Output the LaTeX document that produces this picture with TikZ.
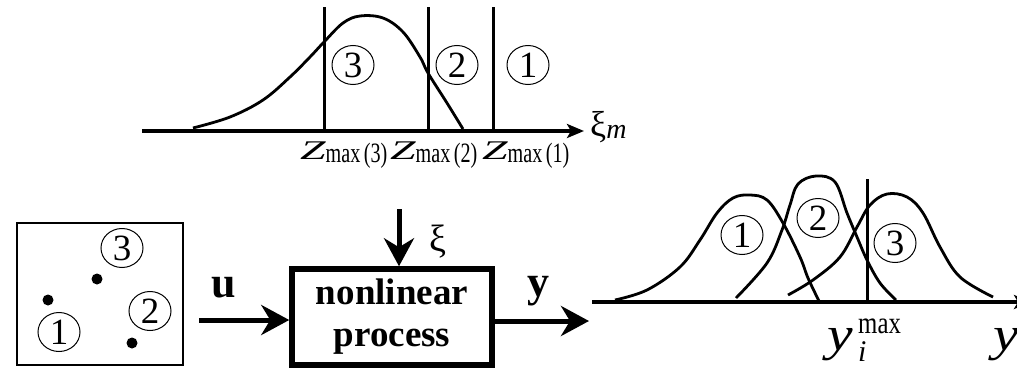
\documentclass[tikz,border=0pt]{standalone}
\usepackage{fontspec}
\setmainfont{Liberation Serif}
\usetikzlibrary{arrows.meta,shapes.geometric}
\newcommand{\fsz}[1]{\fontsize{#1}{#1}\selectfont}
\newcommand{\zlabel}[1]{\scalebox{1.7}[1]{\fsz{27}\itshape Z}\raisebox{-3pt}{\scalebox{0.72}[1]{\fsz{28}max\,(#1)}}}
\newcommand{\bigy}{\scalebox{1.2}[1]{\fsz{48}\itshape y}}
\begin{document}
\begin{tikzpicture}[x=1pt,y=-1pt,
  thinln/.style={line width=1.2pt},
  cnum/.style={draw,ellipse,line width=1pt,minimum width=42pt,minimum height=39pt,inner sep=0pt,font=\fsz{37}},
  dotn/.style={circle,fill,inner sep=0pt,minimum size=11pt},
  curve/.style={line width=2.8pt,line join=round},
  vline/.style={line width=3pt},
  smallarrow/.style={line width=4pt,-{Stealth[length=17pt,width=14pt,inset=4pt]}},
  bigarrow/.style={line width=5pt,-{Stealth[length=28pt,width=30pt,inset=9pt]}},
  procbox/.style={draw,line width=5.5pt,minimum width=200pt,minimum height=96pt,align=center,font=\fontsize{37}{42}\selectfont\bfseries,inner sep=0pt},
  lbl/.style={inner sep=0pt,anchor=base west}
]
\useasboundingbox (0,0) rectangle (1017,367);
\clip (0,0) rectangle (1017,367);

% ---------- top graph ----------
\coordinate (ta0) at (142,131);
\coordinate (ta1) at (584,131);
\draw[smallarrow] (ta0) -- (ta1);
\node[lbl] (ximlab) at (590,136) {\fsz{36}ξ\raisebox{-2pt}{\fsz{28}\itshape m}};
\coordinate (v3t) at (324,7); \coordinate (v3b) at (324,131);
\coordinate (v2t) at (428,7); \coordinate (v2b) at (428,131);
\coordinate (v1t) at (493,7); \coordinate (v1b) at (493,131);
\draw[vline] (v3t) -- (v3b);
\draw[vline] (v2t) -- (v2b);
\draw[vline] (v1t) -- (v1b);
\draw[curve] plot[smooth,tension=0.6] coordinates {(193,128) (230,117) (263,100) (290,77) (310,57) (324,42) (343,23) (360,16) (383,18) (403,32) (420,57) (428,73) (447,103) (463,129)};
\node[cnum] (t3) at (353,65) {3};
\node[cnum] (t2) at (457,65) {2};
\node[cnum] (t1) at (528,65) {1};
\node[lbl] (z3) at (300,159) {\zlabel{3}};
\node[lbl] (z2) at (390,159) {\zlabel{2}};
\node[lbl] (z1) at (482,159) {\zlabel{1}};

% ---------- input box ----------
\node[draw,thinln,minimum width=166pt,minimum height=142pt,inner sep=0pt] (inbox) at (100,294) {};
\node[dotn] (d1) at (48,300) {};
\node[dotn] (d3) at (97,279) {};
\node[dotn] (d2) at (132,343) {};
\node[cnum] (b3) at (122,248) {3};
\node[cnum] (b2) at (150,311) {2};
\node[cnum] (b1) at (59,332) {1};

% ---------- process ----------
\node[procbox] (proc) at (392,317) {nonlinear\\process};
\coordinate (uin) at (199,320);
\draw[bigarrow] (uin) -- (uin -| proc.west);
\node[lbl,font=\fsz{44}\bfseries] (ulab) at (211,297) {u};
\coordinate (xitop) at (399,209);
\draw[bigarrow] (xitop) -- (xitop |- proc.north);
\node[lbl,font=\fsz{38}] (xilab) at (429,251) {ξ};
\coordinate (yout) at (589,321);
\draw[bigarrow] (yout -| proc.east) -- (yout);
\node[lbl,font=\fsz{44}\bfseries] (ylab) at (527,296) {y};

% ---------- output graph ----------
\coordinate (ra0) at (592,302);
\coordinate (ra1) at (1031,302);
\draw[smallarrow] (ra0) -- (ra1);
\coordinate (rvt) at (867,179); \coordinate (rvb) at (867,302);
\draw[vline] (rvt) -- (rvb);
\draw[curve] plot[smooth,tension=0.6] coordinates {(615,300) (647,290) (680,267) (700,240) (717,213) (733,198) (750,195) (767,200) (783,223) (800,257) (808,278) (819,301)};
\draw[curve] plot[smooth,tension=0.6] coordinates {(736,298) (767,263) (782,230) (790,205) (798,184) (816,176) (835,182) (847,213) (857,237) (867,260) (880,283) (896,300)};
\draw[curve] plot[smooth,tension=0.6] coordinates {(788,295) (813,280) (840,257) (857,227) (870,205) (887,194) (907,197) (923,213) (940,247) (960,277) (993,297)};
\node[cnum] (r1) at (742,235) {1};
\node[cnum] (r2) at (818,218) {2};
\node[cnum] (r3) at (895,243) {3};
\node[lbl] (ymax) at (827,350) {\bigy};
\node[lbl] (ymaxsup) at (858,333) {\scalebox{0.8}[1]{\fsz{31}max}};
\node[lbl,font=\fsz{30}\itshape] (ymaxsub) at (858,361) {i};
\node[lbl] (yaxis) at (993,350) {\bigy};
\end{tikzpicture}
\end{document}
